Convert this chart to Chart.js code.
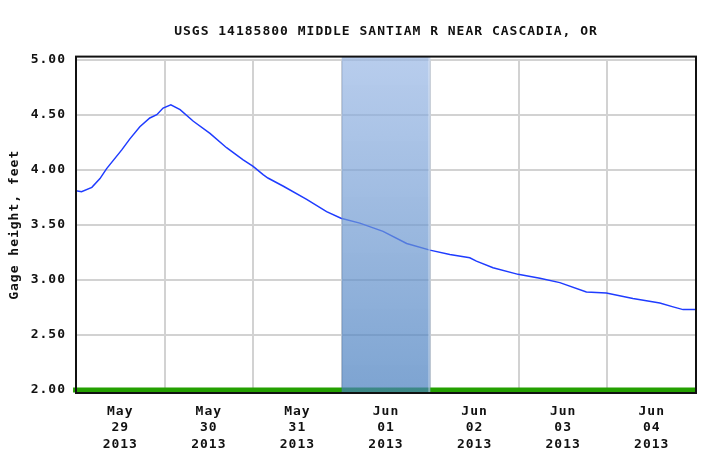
<!DOCTYPE html>
<html>
<head>
<meta charset="utf-8">
<script src="https://cdn.jsdelivr.net/npm/chart.js@4"></script>
<style>
  html, body { margin: 0; padding: 0; background: #fff; }
  #wrap { width: 711px; height: 465px; }
</style>
</head>
<body>
<div id="wrap"><canvas id="chart"></canvas></div>
<script>
// hours after May 29 2013 00:00
var hours = [0, 1.5, 4.3, 6.5, 8.3, 12.4, 14.6, 17.3, 20, 21.9, 23.6, 25.7, 28.2, 31.8, 36.3, 40.8, 45.3, 48,
    50.7, 52, 56.2, 62.5, 67.9, 71.8, 76.9, 83.2, 89.6, 95.9, 101.3, 106.7, 108.5, 113, 119.8, 125.7, 131.1,
    138.3, 143.7, 150.9, 158.2, 161.8, 164.5, 168];
// gage height, feet
var gageFeet = [3.81, 3.80, 3.84, 3.92, 4.01, 4.18, 4.28, 4.39, 4.47, 4.50, 4.56, 4.59, 4.545, 4.44, 4.33, 4.20, 4.09, 4.03,
    3.955, 3.925, 3.85, 3.73, 3.62, 3.56, 3.515, 3.44, 3.33, 3.27, 3.23, 3.20, 3.17, 3.11, 3.05, 3.015, 2.975,
    2.89, 2.88, 2.83, 2.79, 2.755, 2.73, 2.73];
// x tick labels, one per day (centred on noon)
var dayMonths = ["May", "May", "May", "Jun", "Jun", "Jun", "Jun"];
var dayNumbers = ["29", "30", "31", "01", "02", "03", "04"];
var dayYears = ["2013", "2013", "2013", "2013", "2013", "2013", "2013"];
// bottom reference line
var baseHours = [-0.8, 168];
var baseFeet = [2.00, 2.00];
// highlighted day (hours)
var shadeStart = 72;
var shadeEnd = 96;

var FONT = { family: "'DejaVu Sans Mono', 'Liberation Mono', monospace", size: 13, weight: "bold" };

function toPoints(xs, ys) {
    return xs.map(function (x, i) { return { x: x, y: ys[i] }; });
}

var spacing = {
    id: "spacing",
    beforeUpdate: function (chart) { chart.ctx.letterSpacing = "1px"; },
    beforeDraw: function (chart) { chart.ctx.letterSpacing = "1px"; }
};

var shade = {
    id: "shade",
    afterDatasetsDraw: function (chart) {
        var ctx = chart.ctx, area = chart.chartArea, x = chart.scales.x;
        var x0 = x.getPixelForValue(shadeStart), x1 = x.getPixelForValue(shadeEnd);
        var top = area.top - 3, bottom = area.bottom + 3;
        var grad = ctx.createLinearGradient(0, top, 0, bottom);
        grad.addColorStop(0, "rgba(150,181,228,0.68)");
        grad.addColorStop(1, "rgba(70,125,190,0.7)");
        ctx.save();
        ctx.fillStyle = grad;
        ctx.fillRect(x0, top, x1 - x0, bottom - top);
        ctx.fillStyle = "rgba(255,255,255,0.35)";
        ctx.fillRect(x1 - 2, top, 2, bottom - top);
        ctx.restore();
    },
    afterDraw: function (chart) {
        var ctx = chart.ctx, area = chart.chartArea;
        ctx.save();
        ctx.strokeStyle = "#111";
        ctx.lineWidth = 2;
        ctx.strokeRect(area.left, area.top - 3, area.right - area.left, area.bottom - area.top + 6);
        ctx.restore();
    }
};

new Chart(document.getElementById("chart").getContext("2d"), {
    type: "line",
    data: {
        datasets: [{
            label: "Gage height",
            data: toPoints(hours, gageFeet),
            borderColor: "#1f3cff",
            borderWidth: 1.5,
            pointRadius: 0,
            tension: 0,
            fill: false
        }, {
            label: "Base",
            data: toPoints(baseHours, baseFeet),
            borderColor: "#24a000",
            borderWidth: 5,
            pointRadius: 0,
            clip: 6,
            fill: false
        }]
    },
    options: {
        responsive: true,
        maintainAspectRatio: false,
        animation: false,
        layout: { padding: { left: 0, right: 15, top: 0, bottom: 0 } },
        plugins: {
            legend: { display: false },
            tooltip: { enabled: false },
            title: {
                display: true,
                fullSize: false,
                text: "USGS 14185800 MIDDLE SANTIAM R NEAR CASCADIA, OR",
                color: "#111",
                font: FONT,
                padding: { top: 24, bottom: 20 }
            }
        },
        scales: {
            x: {
                type: "linear",
                min: 0,
                max: 168,
                afterBuildTicks: function (scale) {
                    var t = [];
                    for (var h = 0; h <= 168; h += 12) t.push({ value: h });
                    scale.ticks = t;
                },
                afterFit: function (scale) { scale.height = 75; },
                ticks: {
                    autoSkip: false,
                    maxRotation: 0,
                    padding: 13,
                    color: "#111",
                    font: { family: FONT.family, size: 13, weight: "bold", lineHeight: 1.27 },
                    callback: function (v) {
                        if (v % 24 !== 12) return "";
                        var d = (v - 12) / 24;
                        return [dayMonths[d], dayNumbers[d], dayYears[d]];
                    }
                },
                grid: {
                    drawTicks: false,
                    lineWidth: 2,
                    color: function (c) {
                        return (c.tick && c.tick.value % 24 === 0) ? "#d2d2d2" : "rgba(0,0,0,0)";
                    }
                },
                border: { display: false }
            },
            y: {
                min: 2,
                max: 5,
                afterFit: function (scale) { scale.width = 76; },
                ticks: {
                    stepSize: 0.5,
                    padding: 10,
                    color: "#111",
                    font: FONT,
                    callback: function (v) { return v.toFixed(2); }
                },
                grid: { drawTicks: false, lineWidth: 2, color: "#d2d2d2" },
                border: { display: false },
                title: {
                    display: true,
                    text: "Gage height, feet",
                    color: "#111",
                    font: FONT,
                    padding: { top: 7, bottom: 0 }
                }
            }
        }
    },
    plugins: [spacing, shade]
});
</script>
</body>
</html>
